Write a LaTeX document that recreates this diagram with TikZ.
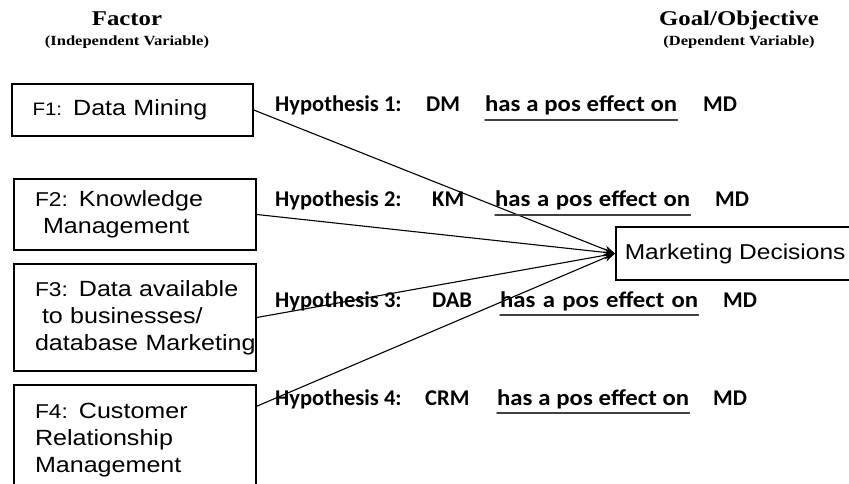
\documentclass[tikz,border=0pt]{standalone}
\usepackage{fontspec}
\setmainfont{Liberation Sans}
\newfontfamily\headfont[FakeStretch=1.18]{Liberation Serif}
\newfontfamily\boxfont[FakeStretch=1.14]{Liberation Sans}
\newfontfamily\hypfont{Carlito}
\newfontfamily\effont[FakeStretch=1.1]{Carlito}
\usetikzlibrary{arrows.meta, calc, positioning}
\newcommand{\flab}[1]{{\fontsize{20}{27}\selectfont #1}}

\begin{document}
\begin{tikzpicture}[x=1pt,y=-1pt,line cap=round,
  head/.style={anchor=base, inner sep=0pt, font=\headfont\bfseries\fontsize{21}{24}\selectfont},
  subhead/.style={anchor=base, inner sep=0pt, font=\headfont\bfseries\fontsize{14}{16}\selectfont},
  factorbox/.style={draw, line width=1.6pt, minimum width=242pt, text width=200pt,
    align=left, inner xsep=0pt, font=\boxfont\fontsize{22}{27}\selectfont},
  goalbox/.style={draw, line width=1.6pt, anchor=west, minimum height=53pt,
    inner xsep=9pt, font=\boxfont\fontsize{21.5}{27}\selectfont},
  hyp/.style={anchor=base west, inner sep=0pt, font=\hypfont\bfseries\fontsize{22.5}{26}\selectfont},
  effect/.style={hyp, font=\effont\bfseries\fontsize{22.5}{26}\selectfont},
  uline/.style={line width=1.5pt, black!75},
  link/.style={line width=1.1pt, -{Stealth[length=11pt,width=8pt]}}]
  \useasboundingbox (0,0) rectangle (849,484);

  % --- Titoli delle colonne ---
  \node[head] (factor) at (127,26) {Factor};
  \node[subhead] (indep) at (127,46) {(Independent Variable)};
  \node[head] (goal) at (739,26) {Goal/Objective};
  \node[subhead] (dep) at (739,46) {(Dependent Variable)};

  % --- Fattori (variabili indipendenti) ---
  \node[factorbox, minimum width=241pt, minimum height=52pt] (f1) at (132.5,110)
    {{\fontsize{18}{27}\selectfont F1:} Data Mining};
  \node[factorbox, minimum height=71pt] (f2) at (135,214.5)
    {\flab{F2:} Knowledge\\ \hspace*{8pt}Management};
  \node[factorbox, minimum height=107pt] (f3) at (135,317.5)
    {\mbox{\flab{F3:} Data available}\\ \hspace*{7pt}to businesses/\\ \mbox{database Marketing}};
  \node[factorbox, minimum height=110pt] (f4) at (135,440)
    {\flab{F4:} Customer\\ Relationship\\ Management};
  \coordinate (f4out) at ([yshift=-22pt]f4.north east);

  % --- Obiettivo (variabile dipendente) ---
  \node[goalbox] (mktg) at (615,253.5) {Marketing Decisions};

  % --- Frecce verso l'obiettivo ---
  \draw[link] (f1.east) -- (mktg.west);
  \draw[link] (f2.east) -- (mktg.west);
  \draw[link] (f3.east) -- (mktg.west);
  \draw[link] (f4out) -- (mktg.west);

  % --- Ipotesi ---
  \node[hyp] (h1) at (275,112) {Hypothesis 1:};
  \node[hyp] (h1var) at (426,112) {DM};
  \node[effect] (h1eff) at (485,112) {\makebox[192pt][s]{has a pos effect on}};
  \node[hyp] (h1md) at (703,112) {MD};
  \draw[uline] ([yshift=-8pt]h1eff.base west) -- ([yshift=-8pt]h1eff.base east);

  \node[hyp] (h2) at (275,207) {Hypothesis 2:};
  \node[hyp] (h2var) at (432,207) {KM};
  \node[effect] (h2eff) at (495,207) {\makebox[195pt][s]{has a pos effect on}};
  \node[hyp] (h2md) at (715,207) {MD};
  \draw[uline] ([yshift=-8pt]h2eff.base west) -- ([yshift=-8pt]h2eff.base east);

  \node[hyp] (h3) at (275,307) {Hypothesis 3:};
  \node[hyp] (h3var) at (432,307) {DAB};
  \node[effect] (h3eff) at (500,307) {\makebox[198pt][s]{has a pos effect on}};
  \node[hyp] (h3md) at (723,307) {MD};
  \draw[uline] ([yshift=-8pt]h3eff.base west) -- ([yshift=-8pt]h3eff.base east);

  \node[hyp] (h4) at (275,405) {Hypothesis 4:};
  \node[hyp] (h4var) at (425,405) {CRM};
  \node[effect] (h4eff) at (497,405) {\makebox[192pt][s]{has a pos effect on}};
  \node[hyp] (h4md) at (713,405) {MD};
  \draw[uline] ([yshift=-8pt]h4eff.base west) -- ([yshift=-8pt]h4eff.base east);
\end{tikzpicture}
\end{document}
